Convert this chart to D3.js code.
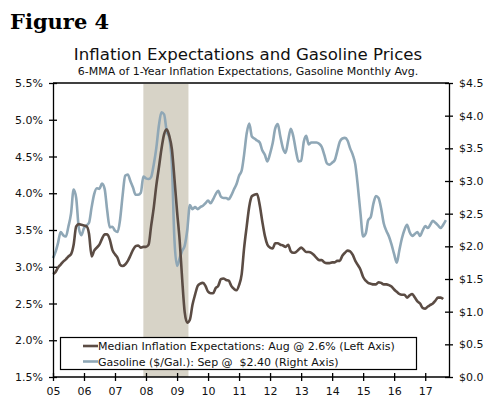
<!DOCTYPE html>
<html>
<head>
<meta charset="utf-8">
<script src="https://cdn.jsdelivr.net/npm/d3@7"></script>
<style>
body { margin: 0; background: #fff; }
svg { font-family: "DejaVu Sans", Verdana, sans-serif; }
</style>
</head>
<body>
<svg id="chart"></svg>
<script>
// monthly values, Jan 2005 onward
var inflation = [
  2.90, 2.93, 2.99, 3.03, 3.07, 3.10, 3.14, 3.17, 3.30, 3.55, 3.58, 3.57,
  3.56, 3.55, 3.45, 3.14, 3.22, 3.26, 3.30, 3.38, 3.44, 3.44, 3.37, 3.23,
  3.17, 3.12, 3.03, 3.01, 3.03, 3.08, 3.15, 3.23, 3.28, 3.29, 3.26, 3.27,
  3.27, 3.30, 3.55, 3.80, 4.10, 4.35, 4.60, 4.80, 4.87, 4.78, 4.60, 4.20,
  3.75, 3.35, 2.85, 2.38, 2.24, 2.28, 2.48, 2.62, 2.74, 2.77, 2.78, 2.74,
  2.66, 2.64, 2.64, 2.71, 2.74, 2.83, 2.84, 2.82, 2.81, 2.74, 2.70, 2.68,
  2.75, 2.90, 3.25, 3.55, 3.82, 3.96, 3.98, 3.99, 3.84, 3.62, 3.42, 3.30,
  3.26, 3.25, 3.32, 3.32, 3.30, 3.29, 3.27, 3.30, 3.21, 3.19, 3.20, 3.23,
  3.26, 3.23, 3.20, 3.20, 3.19, 3.16, 3.12, 3.09, 3.09, 3.06, 3.05, 3.05,
  3.06, 3.06, 3.08, 3.08, 3.15, 3.19, 3.22, 3.21, 3.16, 3.08, 3.02, 2.96,
  2.86, 2.81, 2.78, 2.77, 2.76, 2.76, 2.79, 2.78, 2.76, 2.76, 2.75, 2.73,
  2.69, 2.66, 2.63, 2.62, 2.62, 2.58, 2.61, 2.63, 2.58, 2.53, 2.50, 2.44,
  2.43, 2.46, 2.48, 2.50, 2.54, 2.58, 2.58, 2.56
];

var gasoline = [
  1.82, 1.92, 2.05, 2.22, 2.17, 2.15, 2.30, 2.50, 2.87, 2.74, 2.28, 2.17,
  2.28, 2.32, 2.36, 2.60, 2.80, 2.89, 2.88, 2.96, 2.88, 2.55, 2.29, 2.30,
  2.24, 2.22, 2.40, 2.78, 3.08, 3.10, 3.00, 2.90, 2.79, 2.79, 2.82, 3.07,
  3.04, 3.03, 3.06, 3.25, 3.50, 3.85, 4.05, 4.02, 3.76, 3.66, 3.25, 2.10,
  1.70, 1.82, 1.93, 2.01, 2.25, 2.63, 2.57, 2.60, 2.57, 2.60, 2.62, 2.66,
  2.70, 2.66, 2.72, 2.80, 2.85, 2.76, 2.74, 2.74, 2.72, 2.78, 2.87, 2.95,
  3.08, 3.16, 3.40, 3.73, 3.88, 3.68, 3.65, 3.62, 3.59, 3.47, 3.40, 3.30,
  3.42, 3.58, 3.80, 3.87, 3.68, 3.50, 3.43, 3.62, 3.80, 3.68, 3.46, 3.30,
  3.31, 3.60, 3.69, 3.56, 3.59, 3.59, 3.59, 3.57, 3.52, 3.40, 3.27, 3.25,
  3.28, 3.32, 3.45, 3.60, 3.65, 3.66, 3.62, 3.50, 3.40, 3.25, 2.90, 2.50,
  2.15, 2.20, 2.40, 2.45, 2.65, 2.77, 2.74, 2.58, 2.35, 2.24, 2.15, 2.03,
  1.88, 1.75, 1.93, 2.12, 2.25, 2.33, 2.22, 2.16, 2.19, 2.22, 2.16, 2.24,
  2.31, 2.28, 2.33, 2.39, 2.36, 2.32, 2.28, 2.33, 2.40
];

var recession = [new Date(2007, 11, 1), new Date(2009, 4, 15)];
var leftTicks = [1.5, 2.0, 2.5, 3.0, 3.5, 4.0, 4.5, 5.0, 5.5];
var rightTicks = [0, 0.5, 1.0, 1.5, 2.0, 2.5, 3.0, 3.5, 4.0, 4.5];
var yearTicks = d3.range(2005, 2018);
var legendLabels = [
  "Median Inflation Expectations: Aug @ 2.6% (Left Axis)",
  "Gasoline ($/Gal.): Sep @  $2.40 (Right Axis)"
];

var W = 491, H = 399;
var m = {left: 53, right: 42, top: 83, bottom: 22};
var colInfl = "#5b4c44", colGas = "#8fa7b6";

var svg = d3.select("#chart").attr("width", W).attr("height", H);

var month = function(i) { return new Date(2005, i, 1); };

var x = d3.scaleTime()
  .domain([new Date(2005, 0, 1), new Date(2017, 9, 8)])
  .range([m.left, W - m.right]);
var yL = d3.scaleLinear().domain([1.5, 5.5]).range([H - m.bottom, m.top]);
var yR = d3.scaleLinear().domain([0, 4.5]).range([H - m.bottom, m.top]);

// headings
svg.append("text").attr("x", 10).attr("y", 29)
  .attr("font-family", "'DejaVu Serif', Georgia, serif")
  .attr("font-weight", "bold").attr("font-size", 21)
  .text("Figure 4");
svg.append("text").attr("x", 248).attr("y", 60).attr("text-anchor", "middle")
  .attr("font-size", 16.6).attr("fill", "#111")
  .text("Inflation Expectations and Gasoline Prices");
svg.append("text").attr("x", 248).attr("y", 75).attr("text-anchor", "middle")
  .attr("font-size", 11).attr("fill", "#111")
  .text("6-MMA of 1-Year Inflation Expectations, Gasoline Monthly Avg.");

// recession band
svg.append("rect")
  .attr("x", x(recession[0])).attr("y", m.top + 1)
  .attr("width", x(recession[1]) - x(recession[0]))
  .attr("height", H - m.bottom - m.top - 1)
  .attr("fill", "#d7d3c7");

// top frame
svg.append("line")
  .attr("x1", m.left).attr("x2", W - m.right)
  .attr("y1", m.top).attr("y2", m.top)
  .attr("stroke", "#000").attr("stroke-width", 1.3);

var lineG = d3.line()
  .x(function(d, i) { return x(month(i)); })
  .y(function(d) { return yR(d); })
  .curve(d3.curveMonotoneX);
var lineI = d3.line()
  .x(function(d, i) { return x(month(i)); })
  .y(function(d) { return yL(d); })
  .curve(d3.curveMonotoneX);

svg.append("path").datum(gasoline).attr("d", lineG)
  .attr("fill", "none").attr("stroke", colGas).attr("stroke-width", 2.6);
svg.append("path").datum(inflation).attr("d", lineI)
  .attr("fill", "none").attr("stroke", colInfl).attr("stroke-width", 2.6);

// axes
var styleAxis = function(g) {
  g.select(".domain").attr("stroke", "#000").attr("stroke-width", 1.3);
  g.selectAll(".tick line").attr("stroke", "#000").attr("stroke-width", 1.3);
  g.selectAll("text").attr("font-size", 11).attr("fill", "#111")
    .attr("font-family", "'DejaVu Sans', Verdana, sans-serif");
};

var gL = svg.append("g").attr("transform", "translate(" + m.left + ",0)")
  .call(d3.axisLeft(yL).tickValues(leftTicks).tickSizeOuter(0).tickSizeInner(4)
    .tickPadding(6).tickFormat(function(d) { return d.toFixed(1) + "%"; }));
gL.selectAll(".tick line").attr("x2", 4).attr("x1", -4);
styleAxis(gL);

var gR = svg.append("g").attr("transform", "translate(" + (W - m.right) + ",0)")
  .call(d3.axisRight(yR).tickValues(rightTicks).tickSizeOuter(0).tickSizeInner(4)
    .tickPadding(6).tickFormat(function(d) { return "$" + d.toFixed(1); }));
gR.selectAll(".tick line").attr("x1", -4).attr("x2", 4);
styleAxis(gR);

var gX = svg.append("g").attr("transform", "translate(0," + (H - m.bottom) + ")")
  .call(d3.axisBottom(x)
    .tickValues(yearTicks.map(function(y) { return new Date(y, 0, 1); }))
    .tickSizeOuter(0).tickSizeInner(4).tickPadding(6)
    .tickFormat(d3.timeFormat("%y")));
gX.selectAll(".tick line").attr("y1", -4).attr("y2", 4);
styleAxis(gX);
gX.select(".domain").attr("d", "M" + m.left + ",0H" + (W - m.right));

// legend
var lg = svg.append("g");
lg.append("rect").attr("x", 60.5).attr("y", 337.5).attr("width", 356).attr("height", 32)
  .attr("fill", "#fff").attr("stroke", "#000").attr("stroke-width", 1.2);
[colInfl, colGas].forEach(function(c, i) {
  var yy = 346 + i * 15.5;
  lg.append("line").attr("x1", 83).attr("x2", 98).attr("y1", yy).attr("y2", yy)
    .attr("stroke", c).attr("stroke-width", 2.6);
  lg.append("text").attr("x", 98).attr("y", yy + 4)
    .attr("font-size", 11).attr("fill", "#111").style("white-space", "pre")
    .text(legendLabels[i]);
});
</script>
</body>
</html>
